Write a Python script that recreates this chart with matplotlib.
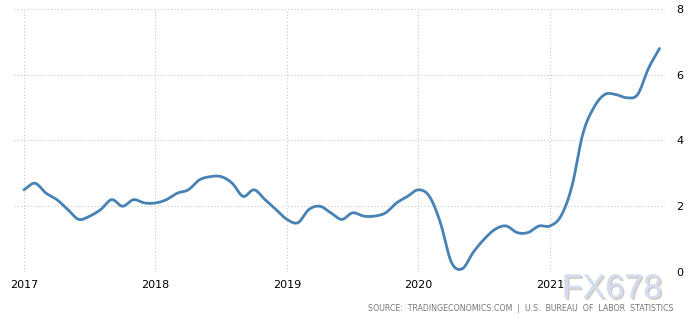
import numpy as np
import matplotlib.pyplot as plt
import matplotlib.patheffects as pe

# US CPI inflation rate, year over year (%), monthly Jan 2017 - Nov 2021
cpi_2017 = [2.5, 2.7, 2.4, 2.2, 1.9, 1.6, 1.7, 1.9, 2.2, 2.0, 2.2, 2.1]
cpi_2018 = [2.1, 2.2, 2.4, 2.5, 2.8, 2.9, 2.9, 2.7, 2.3, 2.5, 2.2, 1.9]
cpi_2019 = [1.6, 1.5, 1.9, 2.0, 1.8, 1.6, 1.8, 1.7, 1.7, 1.8, 2.1, 2.3]
cpi_2020 = [2.5, 2.3, 1.5, 0.3, 0.1, 0.6, 1.0, 1.3, 1.4, 1.2, 1.2, 1.4]
cpi_2021 = [1.4, 1.7, 2.6, 4.2, 5.0, 5.4, 5.4, 5.3, 5.4, 6.2, 6.8]
years = [2017, 2018, 2019, 2020, 2021]
y_ticks = [0, 2, 4, 6, 8]

LINE = "#4682b4"
GRID = "#c8c8c8"


def smooth(x, y, steps=12):
    # Catmull-Rom curve through the monthly points
    x = np.asarray(x, float)
    y = np.asarray(y, float)
    px = np.concatenate([[2 * x[0] - x[1]], x, [2 * x[-1] - x[-2]]])
    py = np.concatenate([[2 * y[0] - y[1]], y, [2 * y[-1] - y[-2]]])
    t = np.linspace(0, 1, steps, endpoint=False)
    xs, ys = [], []
    for i in range(1, len(px) - 2):
        for p, out in ((px, xs), (py, ys)):
            p0, p1, p2, p3 = p[i - 1], p[i], p[i + 1], p[i + 2]
            out.extend(0.5 * (2 * p1 + (-p0 + p2) * t
                              + (2 * p0 - 5 * p1 + 4 * p2 - p3) * t ** 2
                              + (-p0 + 3 * p1 - 3 * p2 + p3) * t ** 3))
    xs.append(x[-1])
    ys.append(y[-1])
    return np.array(xs), np.array(ys)


values = cpi_2017 + cpi_2018 + cpi_2019 + cpi_2020 + cpi_2021
dates = [2017 + i / 12 for i in range(len(values))]

fig = plt.figure(figsize=(6.89, 3.22), dpi=100)
ax = fig.add_axes([0.0203, 0.1553, 0.9449, 0.8168])

sx, sy = smooth(dates, values)
ax.plot(sx, sy, color=LINE, lw=2, solid_capstyle="round", zorder=3)

ax.set_xlim(2016.924, 2021.875)
ax.set_ylim(0, 8)
ax.set_xticks(years)
ax.set_xticklabels([str(y) for y in years])
ax.set_yticks(y_ticks)
ax.yaxis.tick_right()
ax.grid(True, color=GRID, linestyle=(0, (1, 2)), lw=0.8)
for s in ax.spines.values():
    s.set_visible(False)
ax.tick_params(axis="both", length=0, labelsize=8, colors="black")
ax.tick_params(axis="x", pad=6)
ax.tick_params(axis="y", pad=8)

fig.text(0.977, 0.028, "SOURCE:  TRADINGECONOMICS.COM  |  U.S.  BUREAU  OF  LABOR  STATISTICS",
         ha="right", va="bottom", fontsize=5.7, color="#777777", family="DejaVu Sans")

# watermark
fig.text(0.961, 0.0745, "FX678", ha="right", va="baseline", fontsize=24.5,
         color="#d2dded", family="Liberation Sans",
         path_effects=[pe.withSimplePatchShadow(offset=(1.2, -1.2), shadow_rgbFace="#c9beb4", alpha=0.8),
                       pe.Normal()])

fig.savefig("out.png", dpi=100, facecolor="white")
